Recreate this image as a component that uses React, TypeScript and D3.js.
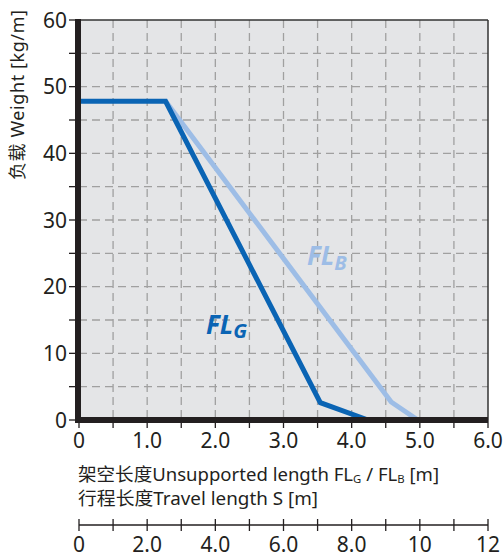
import React from "react";
import * as d3 from "d3";

const xTicks = [0, 1, 2, 3, 4, 5, 6];
const xTickLabels = ["0", "1.0", "2.0", "3.0", "4.0", "5.0", "6.0"];
const yTicks = [0, 10, 20, 30, 40, 50, 60];
const travelTicks = [0, 2, 4, 6, 8, 10, 12];
const travelTickLabels = ["0", "2.0", "4.0", "6.0", "8.0", "10", "12"];

const flgX = [0, 1.27, 3.54, 4.24];
const flgY = [47.8, 47.8, 2.6, 0];
const flbX = [1.27, 4.58, 4.97];
const flbY = [47.8, 2.7, 0];

const W = 504;
const H = 557;
const L = 79, R = 488, T = 20, B = 420;

export default function App() {
  const x = d3.scaleLinear().domain([0, 6]).range([L, R]);
  const y = d3.scaleLinear().domain([0, 60]).range([B, T]);
  const xs = d3.scaleLinear().domain([0, 12]).range([L, R]);
  const line = d3
    .line<[number, number]>()
    .x((d) => x(d[0]))
    .y((d) => y(d[1]))
    .curve(d3.curveLinear);
  const flg = flgX.map((v, i) => [v, flgY[i]] as [number, number]);
  const flb = flbX.map((v, i) => [v, flbY[i]] as [number, number]);
  const xGrid = d3.range(0.5, 6, 0.5);
  const yGrid = d3.range(5, 60, 5);
  const xMinor = d3.range(0, 6.01, 0.5);
  const yMinor = d3.range(0, 60.01, 5);
  const sMinor = d3.range(0, 12.01, 1);
  const font = "'Noto Sans', 'Noto Sans CJK SC', sans-serif";
  const txt = "#231f20";
  const sY = 525;
  return (
    <svg width={W} height={H} style={{ position: "absolute", left: 0, top: 0 }} fontFamily={font}>
      <rect x={L} y={T} width={R - L} height={B - T} fill="#e4e5e7" />
      {xGrid.map((v) => (
        <line key={"gx" + v} x1={x(v)} x2={x(v)} y1={T} y2={B} stroke="#a0a0a0" strokeWidth={1.3} strokeDasharray="8 5" />
      ))}
      {yGrid.map((v) => (
        <line key={"gy" + v} x1={L} x2={R} y1={y(v)} y2={y(v)} stroke="#a0a0a0" strokeWidth={1.3} strokeDasharray="8 5" />
      ))}
      <line x1={L} x2={R} y1={T} y2={T} stroke="#333" strokeWidth={1.5} />
      <line x1={R} x2={R} y1={T} y2={B} stroke="#333" strokeWidth={1.5} />
      <path d={line(flb) || ""} fill="none" stroke="#9dbde6" strokeWidth={5} strokeLinejoin="miter" />
      <path d={line(flg) || ""} fill="none" stroke="#0a64b4" strokeWidth={5} strokeLinejoin="miter" />
      <line x1={L - 1} x2={R} y1={B} y2={B} stroke="#231f20" strokeWidth={6} />
      <line x1={L - 1} x2={L - 1} y1={T - 1} y2={B + 3} stroke="#231f20" strokeWidth={6} />
      {xMinor.map((v) => (
        <line key={"tx" + v} x1={x(v)} x2={x(v)} y1={B} y2={B + 8} stroke={txt} strokeWidth={1.3} />
      ))}
      {yMinor.map((v) => (
        <line key={"ty" + v} x1={L - 10} x2={L} y1={y(v)} y2={y(v)} stroke={txt} strokeWidth={1.3} />
      ))}
      {xTicks.map((v, i) => (
        <text key={"xl" + v} x={x(v)} y={448} textAnchor="middle" fontSize={21} fill={txt}>
          {xTickLabels[i]}
        </text>
      ))}
      {yTicks.map((v) => (
        <text key={"yl" + v} x={67} y={y(v) + 7.5} textAnchor="end" fontSize={21} fill={txt}>
          {v}
        </text>
      ))}
      <text transform="translate(24,95) rotate(-90)" textAnchor="middle" fontSize={18} fill={txt} textLength={170} lengthAdjust="spacing">
        负载 Weight [kg/m]
      </text>
      <text x={L - 1} y={481} fontSize={18} fill={txt} textLength={361} lengthAdjust="spacingAndGlyphs">
        架空长度Unsupported length FL<tspan fontSize={11} dy={2}>G</tspan>
        <tspan dy={-2}> / FL</tspan>
        <tspan fontSize={11} dy={2}>B</tspan>
        <tspan dy={-2}> [m]</tspan>
      </text>
      <text x={L - 1} y={505} fontSize={18} fill={txt} textLength={240} lengthAdjust="spacingAndGlyphs">
        行程长度Travel length S [m]
      </text>
      <line x1={L} x2={R} y1={sY} y2={sY} stroke={txt} strokeWidth={1.5} />
      {sMinor.map((v) => (
        <line key={"ts" + v} x1={xs(v)} x2={xs(v)} y1={sY - 6} y2={sY + 6} stroke={txt} strokeWidth={1.3} />
      ))}
      {travelTicks.map((v, i) => (
        <text key={"sl" + v} x={xs(v)} y={552} textAnchor="middle" fontSize={21} fill={txt}>
          {travelTickLabels[i]}
        </text>
      ))}
      <text x={206} y={334} fontSize={26} fontWeight="bold" fontStyle="italic" fill="#0a64b4">
        FL<tspan fontSize={20} dy={4}>G</tspan>
      </text>
      <text x={307} y={265} fontSize={26} fontWeight="bold" fontStyle="italic" fill="#9dbde6">
        FL<tspan fontSize={20} dy={5}>B</tspan>
      </text>
    </svg>
  );
}
